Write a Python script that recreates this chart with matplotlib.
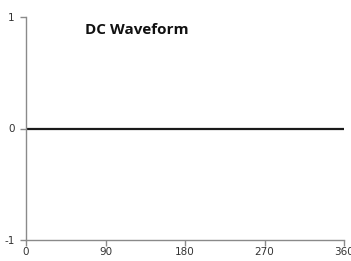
import matplotlib
matplotlib.use("Agg")
import matplotlib.pyplot as plt

plt.rcParams["axes.unicode_minus"] = False

angles = [0, 360]
voltage = [0, 0]
xticks = [0, 90, 180, 270, 360]
yticks = [-1, 0, 1]
title = "DC Waveform"

fig = plt.figure(figsize=(3.51, 2.61), dpi=100)
ax = fig.add_axes([26/351, 21/261, 318/351, 223/261])
ax.plot(angles, voltage, color="#1a1a1a", lw=1.6)
ax.set_xlim(0, 360)
ax.set_ylim(-1, 1)
ax.set_xticks(xticks)
ax.set_yticks(yticks)
for s in ["top", "right"]:
    ax.spines[s].set_visible(False)
for s in ["left", "bottom"]:
    ax.spines[s].set_color("#8a8a8a")
    ax.spines[s].set_linewidth(1.0)
ax.tick_params(axis="both", colors="#8a8a8a", labelcolor="#333333", labelsize=7.5, length=4, width=1)
ax.tick_params(axis="x", pad=1)
ax.tick_params(axis="y", pad=4)
ax.text(0.185, 0.94, title, transform=ax.transAxes, fontsize=11, fontweight="bold",
        family="Open Sans", color="#111111", va="center", ha="left")
fig.savefig("out.png", dpi=100)
